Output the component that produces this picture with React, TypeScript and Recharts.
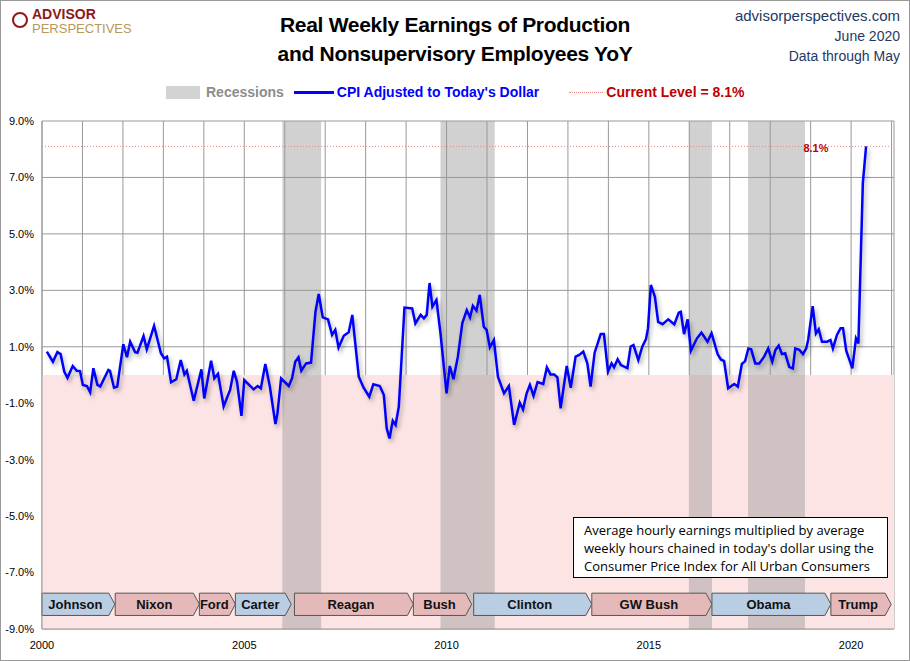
import React from 'react'
import {
  LineChart, Line, XAxis, YAxis, CartesianGrid, ReferenceArea, ReferenceLine, ReferenceDot,
} from 'recharts'

// x positions on the chart's own year axis, values in % YoY
const years = [
  2000.12, 2000.27, 2000.38, 2000.46, 2000.55, 2000.63, 2000.76, 2000.86, 2000.94, 2001.01,
  2001.11, 2001.19, 2001.27, 2001.37, 2001.44, 2001.64, 2001.68, 2001.78, 2001.86, 2002.01,
  2002.1, 2002.18, 2002.3, 2002.36, 2002.51, 2002.59, 2002.77, 2002.94, 2003.02, 2003.09,
  2003.19, 2003.32, 2003.43, 2003.52, 2003.58, 2003.75, 2003.94, 2004.01, 2004.18, 2004.26,
  2004.35, 2004.49, 2004.65, 2004.74, 2004.82, 2004.93, 2005.0, 2005.15, 2005.23, 2005.33,
  2005.41, 2005.52, 2005.63, 2005.77, 2005.82, 2005.91, 2006.1, 2006.18, 2006.26, 2006.34,
  2006.41, 2006.53, 2006.65, 2006.76, 2006.84, 2006.94, 2007.07, 2007.17, 2007.25, 2007.33,
  2007.46, 2007.58, 2007.67, 2007.83, 2007.95, 2008.09, 2008.19, 2008.35, 2008.45, 2008.52,
  2008.59, 2008.67, 2008.74, 2008.82, 2008.96, 2009.15, 2009.23, 2009.36, 2009.44, 2009.51,
  2009.58, 2009.65, 2009.75, 2009.85, 2010.0, 2010.08, 2010.17, 2010.28, 2010.39, 2010.5,
  2010.58, 2010.65, 2010.74, 2010.82, 2010.92, 2010.99, 2011.07, 2011.17, 2011.27, 2011.42,
  2011.54, 2011.67, 2011.81, 2011.89, 2011.98, 2012.06, 2012.15, 2012.25, 2012.39, 2012.48,
  2012.57, 2012.66, 2012.74, 2012.82, 2012.97, 2013.07, 2013.19, 2013.28, 2013.38, 2013.48,
  2013.56, 2013.66, 2013.75, 2013.81, 2013.89, 2013.99, 2014.08, 2014.14, 2014.23, 2014.31,
  2014.47, 2014.55, 2014.62, 2014.74, 2014.84, 2014.93, 2014.98, 2015.05, 2015.15, 2015.23,
  2015.34, 2015.48, 2015.63, 2015.74, 2015.79, 2015.87, 2015.96, 2016.04, 2016.19, 2016.3,
  2016.45, 2016.55, 2016.7, 2016.78, 2016.86, 2016.96, 2017.11, 2017.2, 2017.3, 2017.38,
  2017.46, 2017.53, 2017.63, 2017.73, 2017.85, 2017.95, 2018.05, 2018.13, 2018.21, 2018.29,
  2018.37, 2018.47, 2018.56, 2018.62, 2018.72, 2018.81, 2018.89, 2018.94, 2019.05, 2019.13,
  2019.2, 2019.28, 2019.41, 2019.49, 2019.55, 2019.65, 2019.74, 2019.8, 2019.88, 2019.93,
  2020.03, 2020.12, 2020.18, 2020.29, 2020.37,
]
const cpiAdjusted = [
  0.83, 0.47, 0.81, 0.74, 0.12, -0.1, 0.32, 0.15, 0.14, -0.35,
  -0.39, -0.61, 0.24, -0.35, -0.41, 0.18, 0.15, -0.45, -0.41, 1.09,
  0.63, 1.18, 0.81, 0.79, 1.38, 0.91, 1.74, 0.77, 0.59, 0.65,
  -0.26, -0.15, 0.53, 0.02, 0.15, -0.91, 0.2, -0.83, 0.51, -0.12,
  0.04, -1.11, -0.53, 0.15, -0.24, -1.45, -0.18, -0.39, -0.51, -0.39,
  -0.47, 0.39, -0.39, -1.74, -1.36, -0.12, -0.39, -0.12, 0.47, 0.63,
  0.15, 0.41, 0.44, 2.24, 2.87, 2.04, 1.97, 1.42, 1.6, 0.97,
  1.39, 1.51, 2.13, -0.06, -0.45, -0.77, -0.33, -0.39, -0.71, -1.89,
  -2.25, -1.62, -1.77, -1.12, 2.39, 2.36, 1.83, 2.13, 2.01, 2.13,
  3.26, 2.42, 2.66, 1.48, -0.65, 0.32, -0.15, 0.65, 1.84, 2.3,
  2.04, 2.45, 2.28, 2.84, 1.71, 1.6, 0.98, 1.24, -0.06, -0.65,
  -0.39, -1.77, -0.98, -1.22, -0.65, -0.35, -0.74, -0.25, -0.32, 0.27,
  0.02, 0.02, -0.08, -1.18, 0.32, -0.45, 0.65, 0.71, 0.83, 0.41,
  -0.41, 0.79, 1.18, 1.45, 1.45, 0.12, 0.41, 0.27, 0.56, 0.35,
  0.24, 1.01, 1.06, 0.53, 1.01, 1.27, 1.66, 3.19, 2.77, 1.88,
  1.8, 1.97, 1.79, 2.21, 2.24, 1.45, 1.97, 0.86, 1.3, 1.5,
  1.18, 1.48, 0.74, 0.55, 0.49, -0.47, -0.32, -0.41, 0.39, 0.49,
  0.94, 0.91, 0.41, 0.41, 0.65, 0.94, 0.47, 0.89, 1.04, 0.74,
  0.77, 0.29, 0.23, 0.94, 0.89, 0.74, 0.94, 1.26, 2.44, 1.47,
  1.62, 1.18, 1.18, 1.24, 0.94, 1.42, 1.66, 1.66, 0.86, 0.65,
  0.24, 1.3, 1.12, 6.8, 8.1,
]
const currentLevel = 8.1

const recessions: [number, number][] = [
  [2005.94, 2006.9], [2009.85, 2011.19], [2015.99, 2016.56], [2017.45, 2018.86],
]

const presidents = ['Johnson', 'Nixon', 'Ford', 'Carter', 'Reagan', 'Bush', 'Clinton', 'GW Bush', 'Obama', 'Trump']
const termStart = [2000.0, 2001.81, 2003.89, 2004.78, 2006.24, 2009.18, 2010.67, 2013.59, 2016.56, 2019.5]
const termEnd = [2001.8, 2003.89, 2004.78, 2006.16, 2009.18, 2010.62, 2013.59, 2016.56, 2019.5, 2020.99]
const party = ['D', 'R', 'R', 'D', 'R', 'R', 'D', 'R', 'D', 'R']

const yTicks = [-9, -7, -5, -3, -1, 1, 3, 5, 7, 9]
const xTicks = Array.from({ length: 22 }, (_, i) => 2000 + i)

const data = years.map((y, i) => ({ year: y, cpi: cpiAdjusted[i] }))

const font = '"Liberation Sans", Arial, sans-serif'

const ArrowShape = (name: string, p: string) => (props: any) => {
  const { x, y, width, height } = props
  const tip = 6
  const pts = `${x},${y} ${x + width - tip},${y} ${x + width},${y + height / 2} ${x + width - tip},${y + height} ${x},${y + height}`
  return (
    <g>
      <polygon points={pts} fill={p === 'D' ? '#b9cde3' : '#e5b9b9'} stroke="#555" strokeWidth={1} />
      <text x={x + (width - tip) / 2} y={y + height / 2 + 4.5} textAnchor="middle" fontSize={13} fontWeight="bold" fill="#111" fontFamily={font}>{name}</text>
    </g>
  )
}

export default function App() {
  return (
    <div style={{ position: 'absolute', left: 0, top: 0, width: 910, height: 661, background: '#fff', fontFamily: font, overflow: 'hidden' }}>
      <div style={{ position: 'absolute', inset: 0, border: '1px solid #999', boxSizing: 'border-box' }} />
      <div style={{ position: 'absolute', left: 12, top: 12, width: 16, height: 16, borderRadius: 8, border: '2px solid #8b1a1a', boxSizing: 'border-box' }} />
      <div style={{ position: 'absolute', left: 32, top: 8, fontSize: 14, fontWeight: 'bold', color: '#8b1a1a', lineHeight: '13px' }}>ADVISOR</div>
      <div style={{ position: 'absolute', left: 32, top: 22, fontSize: 13, color: '#b8985a', lineHeight: '13px' }}>PERSPECTIVES</div>
      <div style={{ position: 'absolute', left: 0, width: 910, top: 10, textAlign: 'center', fontSize: 21, fontWeight: 'bold', lineHeight: '29px', color: '#000', letterSpacing: -0.3 }}>
        Real Weekly Earnings of Production<br />and Nonsupervisory Employees YoY
      </div>
      <div style={{ position: 'absolute', right: 10, top: 6, textAlign: 'right', fontSize: 14, lineHeight: '20px', color: '#1f3864' }}>
        <div style={{ fontSize: 15 }}>advisorperspectives.com</div>
        <div>June 2020</div>
        <div>Data through May</div>
      </div>
      <div style={{ position: 'absolute', top: 84, left: 166, fontSize: 14, fontWeight: 'bold', display: 'flex', alignItems: 'center', whiteSpace: 'nowrap' }}>
        <span style={{ display: 'inline-block', width: 34, height: 13, background: '#d3d3d3', marginRight: 6 }} />
        <span style={{ color: '#8c8c8c' }}>Recessions</span>
        <span style={{ display: 'inline-block', width: 40, height: 3, background: '#0000ff', margin: '0 3px 0 10px' }} />
        <span style={{ color: '#0000ff' }}>CPI Adjusted to Today's Dollar</span>
        <span style={{ display: 'inline-block', width: 34, borderTop: '1px dotted #e88', margin: '0 3px 0 30px' }} />
        <span style={{ color: '#c00000' }}>Current Level = 8.1%</span>
      </div>
      <div style={{ position: 'absolute', top: 0, left: 0 }}>
        <LineChart width={910} height={661} data={data} margin={{ top: 121, right: 16, bottom: 7, left: 2 }}>
          <ReferenceArea x1={2000} x2={2021.06} y1={-9} y2={0} fill="#fde4e4" fillOpacity={1} stroke="none" ifOverflow="hidden" />
          {recessions.map(([a, b], i) => (
            <ReferenceArea key={i} x1={a} x2={b} y1={-9} y2={9} fill="#9a9a9a" fillOpacity={0.45} stroke="none" />
          ))}
          <CartesianGrid stroke="#999" strokeWidth={1} />
          <XAxis
            dataKey="year" type="number" domain={[2000, 2021.06]} ticks={xTicks} height={25}
            tickFormatter={(v) => (v % 5 === 0 ? String(v) : '')}
            tick={{ fontSize: 11, fill: '#000', fontFamily: font }} tickLine={false} axisLine={{ stroke: '#999' }} tickMargin={6}
          />
          <YAxis
            type="number" domain={[-9, 9]} ticks={yTicks} width={40} interval={0}
            tickFormatter={(v) => `${v.toFixed(1)}%`}
            tick={{ fontSize: 11, fill: '#000', fontFamily: font }} tickLine={false} axisLine={{ stroke: '#999' }}
          />
          {presidents.map((n, i) => (
            <ReferenceArea key={n} x1={termStart[i]} x2={termEnd[i]} y1={-8.52} y2={-7.73} shape={ArrowShape(n, party[i])} />
          ))}
          <ReferenceLine y={currentLevel} stroke="#e88" strokeDasharray="1 2" />
          <ReferenceDot x={2019.13} y={currentLevel} r={0} fill="none" stroke="none"
            label={{ value: '8.1%', position: 'center', fill: '#c00000', fontSize: 11, fontWeight: 'bold', dy: 2 }} />
          <Line dataKey="cpi" stroke="#0000ff" strokeWidth={2.5} dot={false} isAnimationActive={false}
            style={{ filter: 'drop-shadow(2px 3px 2px rgba(0,0,0,0.3))' }} />
        </LineChart>
      </div>
      <div style={{ position: 'absolute', left: 573, top: 517, width: 315, height: 61, border: '1px solid #000', background: '#fff', boxSizing: 'border-box', padding: '3px 10px', fontSize: 13, lineHeight: '18px', color: '#000', fontFamily: '"Open Sans", Arial, sans-serif' }}>
        Average hourly earnings multiplied by average weekly hours chained in today's dollar using the Consumer Price Index for All Urban Consumers
      </div>
    </div>
  )
}
